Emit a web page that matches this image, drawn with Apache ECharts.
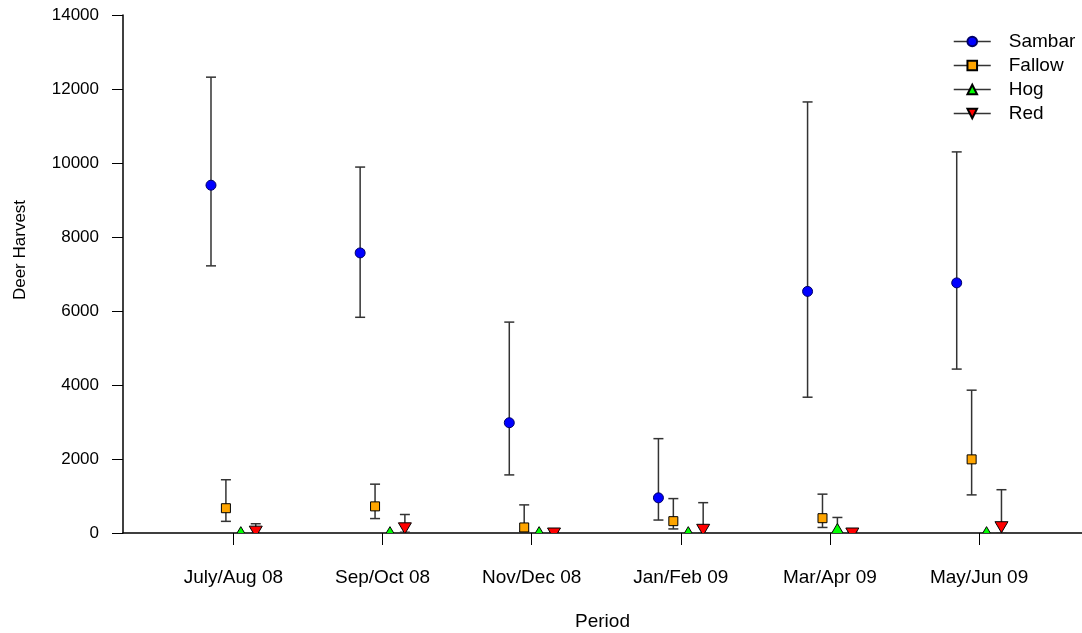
<!DOCTYPE html>
<html>
<head>
<meta charset="utf-8">
<script src="https://cdn.jsdelivr.net/npm/echarts@6/dist/echarts.min.js"></script>
<style>
  html, body { margin: 0; padding: 0; background: #fff; }
  #chart { width: 1082px; height: 633px; }
</style>
</head>
<body>
<div id="chart"></div>
<script>
const periods = ["July/Aug 08", "Sep/Oct 08", "Nov/Dec 08", "Jan/Feb 09", "Mar/Apr 09", "May/Jun 09"];

const sambar = [9400, 7570, 2980, 950, 6530, 6760];
const sambarLow = [7220, 5830, 1570, 350, 3670, 4430];
const sambarHigh = [12320, 9890, 5700, 2550, 11650, 10300];

const fallow = [670, 720, 150, 320, 400, 1990];
const fallowLow = [315, 390, 40, 110, 150, 1030];
const fallowHigh = [1440, 1320, 760, 930, 1050, 3860];

const hog = [10, 10, 10, 10, 95, 10];
const hogLow = [10, 10, 10, 10, 20, 10];
const hogHigh = [10, 10, 10, 10, 420, 10];

const red = [50, 140, 0, 100, 0, 170];
const redLow = [0, 20, 0, 0, 0, 0];
const redHigh = [250, 500, 40, 820, 30, 1170];

const yTicks = [0, 2000, 4000, 6000, 8000, 10000, 12000, 14000];

const chart = echarts.init(document.getElementById("chart"));

// each species is shifted a little left/right of its period
const species = [
  { name: "Sambar", values: sambar, low: sambarLow, high: sambarHigh, offset: -0.15, shape: "circle", color: "#0000ff", border: "#000066" },
  { name: "Fallow", values: fallow, low: fallowLow, high: fallowHigh, offset: -0.05, shape: "rect", color: "#ffa500", border: "#000" },
  { name: "Hog", values: hog, low: hogLow, high: hogHigh, offset: 0.05, shape: "triangle", color: "#00ff00", border: "#000" },
  { name: "Red", values: red, low: redLow, high: redHigh, offset: 0.15, shape: "triangleDown", color: "#ff0000", border: "#000" },
];

const markerShape = (shape, cx, cy, fill, stroke) => {
  const style = { fill: fill, stroke: stroke, lineWidth: 1 };
  if (shape === "circle") {
    return { type: "circle", shape: { cx: cx, cy: cy, r: 5 }, style: style };
  }
  if (shape === "rect") {
    return { type: "rect", shape: { x: cx - 4.5, y: cy - 4.5, width: 9, height: 9 }, style: style };
  }
  if (shape === "triangle") {
    return { type: "polygon", shape: { points: [[cx, cy - 6], [cx + 6.5, cy + 5], [cx - 6.5, cy + 5]] }, style: style };
  }
  return { type: "polygon", shape: { points: [[cx - 6.5, cy - 5], [cx + 6.5, cy - 5], [cx, cy + 6]] }, style: style };
};

const makeRenderItem = (sp) => (params, api) => {
  const x = api.value(0);
  const p = api.coord([x, api.value(1)]);
  const lo = api.coord([x, api.value(2)]);
  const hi = api.coord([x, api.value(3)]);
  const barStyle = { stroke: "#333", lineWidth: 1.5 };
  const children = [];
  if (lo[1] - hi[1] > 1) {
    children.push(
      { type: "line", shape: { x1: p[0], y1: lo[1], x2: p[0], y2: hi[1] }, style: barStyle },
      { type: "line", shape: { x1: p[0] - 5, y1: hi[1], x2: p[0] + 5, y2: hi[1] }, style: barStyle },
      { type: "line", shape: { x1: p[0] - 5, y1: lo[1], x2: p[0] + 5, y2: lo[1] }, style: barStyle }
    );
  }
  children.push(markerShape(sp.shape, p[0], p[1], sp.color, sp.border));
  return { type: "group", children: children };
};

const series = [];
// line series only carry the legend entries (line + symbol)
species.forEach((sp) => {
  series.push({
    name: sp.name,
    type: "line",
    data: [],
    symbol: sp.shape === "rect" ? "rect" : sp.shape === "circle" ? "circle" : "triangle",
    symbolRotate: sp.shape === "triangleDown" ? 180 : 0,
    itemStyle: { color: sp.color, borderColor: sp.border, borderWidth: 1 },
    lineStyle: { color: "#333", width: 1.5 },
  });
});
species.forEach((sp) => {
  series.push({
    name: sp.name,
    type: "custom",
    clip: true,
    renderItem: makeRenderItem(sp),
    encode: { x: 0, y: 1 },
    data: sp.values.map((v, i) => [i + 1 + sp.offset, v, sp.low[i], sp.high[i]]),
  });
});

const option = {
  animation: false,
  textStyle: { fontFamily: "Liberation Sans, Arial, sans-serif" },
  grid: { left: 123, right: 0, top: 15, bottom: 100, outerBoundsMode: "none" },
  legend: {
    data: species.map((sp) => sp.name),
    orient: "vertical",
    left: 953,
    top: 32,
    padding: 0,
    itemWidth: 37,
    itemHeight: 12,
    itemGap: 5,
    lineStyle: { color: "#333", width: 1.5 },
    textStyle: { fontSize: 19, color: "#000", padding: [0, 0, 0, 13] },
  },
  xAxis: {
    type: "value",
    min: 0.26,
    max: 6.69,
    name: "Period",
    nameLocation: "middle",
    nameGap: 79,
    nameTextStyle: { fontSize: 19, color: "#000" },
    splitLine: { show: false },
    axisLine: { onZero: false, lineStyle: { color: "#000", width: 1.5 } },
    axisTick: { customValues: [1, 2, 3, 4, 5, 6], length: 12, lineStyle: { color: "#000", width: 1 } },
    axisLabel: {
      customValues: [1, 2, 3, 4, 5, 6],
      formatter: (v) => periods[Math.round(v) - 1],
      margin: 35,
      fontSize: 19,
      color: "#000",
    },
  },
  yAxis: {
    type: "value",
    min: 0,
    max: 14000,
    interval: 2000,
    name: "Deer Harvest",
    nameLocation: "middle",
    nameGap: 94,
    nameTextStyle: { fontSize: 17, color: "#000", padding: [0, 0, 0, 48] },
    splitLine: { show: false },
    axisLine: { show: true, lineStyle: { color: "#000", width: 1.5 } },
    axisTick: { show: true, length: 11, lineStyle: { color: "#000", width: 1 } },
    axisLabel: {
      customValues: yTicks,
      formatter: (v) => String(v),
      margin: 24,
      fontSize: 17,
      color: "#000",
    },
  },
  series: series,
};

chart.setOption(option);

window.addEventListener("resize", () => chart.resize());
</script>
</body>
</html>
